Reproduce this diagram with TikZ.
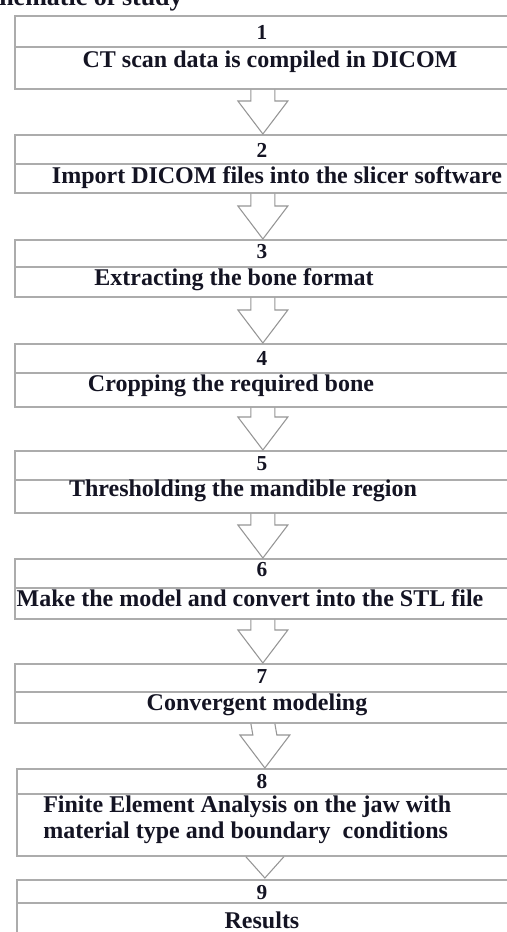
\documentclass[tikz,border=0pt]{standalone}
\usepackage{fontspec}
\setmainfont{Liberation Serif}
\usetikzlibrary{calc}
\definecolor{boxline}{RGB}{172,172,172}
\definecolor{arrline}{RGB}{150,150,150}
\definecolor{inktext}{RGB}{20,20,35}
\begin{document}
\begin{tikzpicture}[x=0.75pt,y=-0.75pt,
  boxstyle/.style={draw=boxline,line width=1.3pt,fill=white,rectangle,inner sep=0pt,anchor=north west,minimum width=373.5pt},
  divline/.style={draw=boxline,line width=1pt},
  arrstyle/.style={draw=arrline,line width=0.8pt,line join=miter},
  numtext/.style={font=\fontsize{16}{18}\selectfont\bfseries,inner sep=0pt,text=inktext},
  steptext/.style={font=\fontsize{18}{19.5}\selectfont\bfseries,inner sep=0pt,text=inktext},
]
\useasboundingbox (0,0) rectangle (507,932);
\clip (0,0) rectangle (507,932);
\fill[white] (0,0) rectangle (507,932);

% title (cropped at the top of the picture)
\node[anchor=base west,inner sep=0pt,font=\fontsize{19.5}{20}\selectfont\bfseries,text=inktext] (title) at (-1,5) {hematic of study};

% boxes
\node[boxstyle,minimum height=54.75pt] (b1) at (14,15) {};
\node[boxstyle,minimum height=43.5pt]  (b2) at (14,134) {};
\node[boxstyle,minimum height=42.75pt] (b3) at (14,239) {};
\node[boxstyle,minimum height=47.25pt] (b4) at (14,343) {};
\node[boxstyle,minimum height=46.5pt]  (b5) at (14,450) {};
\node[boxstyle,minimum height=45pt]    (b6) at (14,558) {};
\node[boxstyle,minimum height=44.25pt] (b7) at (14,663) {};
\node[boxstyle,minimum height=65.25pt] (b8) at (16,768) {};
\node[boxstyle,minimum height=49.5pt]  (b9) at (16,879) {};

% dividers
\coordinate (d1) at (14,47);  \draw[divline] (d1) -- (d1 -| b1.east);
\coordinate (d2) at (14,164); \draw[divline] (d2) -- (d2 -| b2.east);
\coordinate (d3) at (14,267); \draw[divline] (d3) -- (d3 -| b3.east);
\coordinate (d4) at (14,373); \draw[divline] (d4) -- (d4 -| b4.east);
\coordinate (d5) at (14,480); \draw[divline] (d5) -- (d5 -| b5.east);
\coordinate (d6) at (14,588); \draw[divline] (d6) -- (d6 -| b6.east);
\coordinate (d7) at (14,692); \draw[divline] (d7) -- (d7 -| b7.east);
\coordinate (d8) at (16,794); \draw[divline] (d8) -- (d8 -| b8.east);
\coordinate (d9) at (16,903); \draw[divline] (d9) -- (d9 -| b9.east);

% block arrows
\foreach \a/\b in {b1/b2,b2/b3,b3/b4,b4/b5,b5/b6,b6/b7,b7/b8}{
  \draw[arrstyle] ($(\a.south)+(-13,0)$) -- ($(\b.north)+(-13,-33)$) -- ($(\b.north)+(-26,-33)$)
     -- ($(\b.north)+(-1,0)$) -- ($(\b.north)+(24,-33)$) -- ($(\b.north)+(11,-33)$) -- ($(\a.south)+(11,0)$);
}
\draw[arrstyle] ($(b8.south)+(-20,0)$) -- ($(b9.north)+(-1,-1)$) -- ($(b8.south)+(18,0)$);

% numbers
\node[numtext] (n1) at (262,32) {1};
\node[numtext] (n2) at (262,150) {2};
\node[numtext] (n3) at (262,252) {3};
\node[numtext] (n4) at (262,358) {4};
\node[numtext] (n5) at (262,464) {5};
\node[numtext] (n6) at (262,570) {6};
\node[numtext] (n7) at (262,677) {7};
\node[numtext] (n8) at (262,782) {8};
\node[numtext] (n9) at (262,893) {9};

% step texts
\node[steptext] (t1) at (270,62) {CT scan data is compiled in DICOM};
\node[steptext] (t2) at (277,178) {Import DICOM files into the slicer software};
\node[steptext] (t3) at (234,280) {Extracting the bone format};
\node[steptext] (t4) at (231,386) {Cropping the required bone};
\node[steptext] (t5) at (243,491) {Thresholding the mandible region};
\node[steptext] (t6) at (250,598) {Make the model and convert into the STL file};
\node[steptext] (t7) at (257,705) {Convergent modeling};
\node[steptext,anchor=west,align=left,font=\fontsize{18}{19.5}\selectfont\bfseries] (t8) at (43,820)
  {Finite Element Analysis on the jaw with\\material type and boundary\ \ conditions};
\node[steptext] (t9) at (262,920) {Results};
\end{tikzpicture}
\end{document}
